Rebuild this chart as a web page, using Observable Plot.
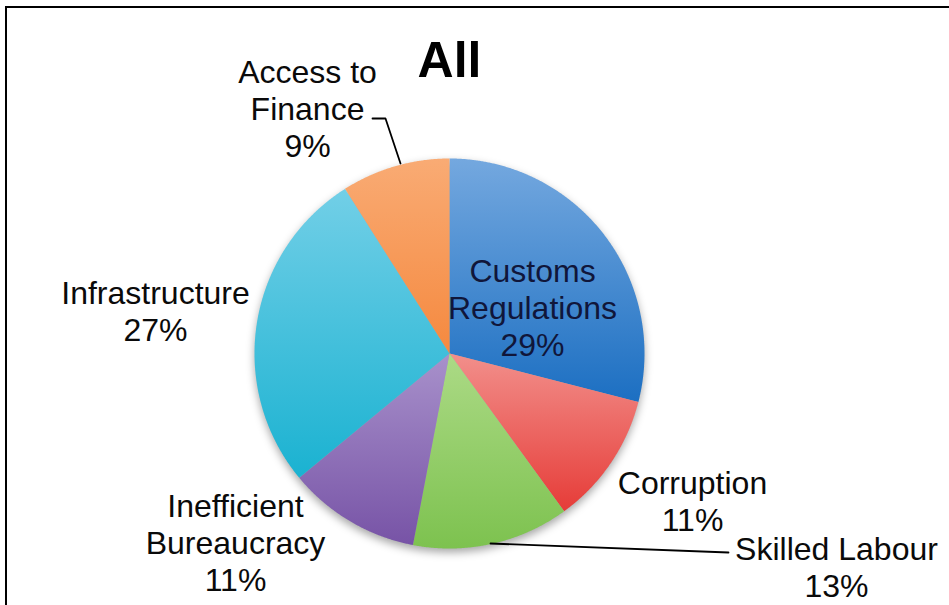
<!DOCTYPE html>
<html><head><meta charset="utf-8">
<script src="https://cdn.jsdelivr.net/npm/d3@7"></script>
<script src="https://cdn.jsdelivr.net/npm/@observablehq/plot@0.6"></script>
<style>
body{margin:0;background:#fff;}
#wrap{position:relative;width:949px;height:605px;overflow:hidden;background:#fff;}
#frame{position:absolute;left:5px;top:6px;width:960px;height:620px;border-top:2px solid #000;border-left:2px solid #000;pointer-events:none;box-sizing:border-box;}
#wrap svg{position:absolute;left:0;top:0;}
</style></head><body><div id="wrap"><div id="frame"></div></div>
<script>
// ---- data ----
const title = "All";
const categories = ["Customs Regulations","Corruption","Skilled Labour","Inefficient Bureaucracy","Infrastructure","Access to Finance"];
const labelText = ["Customs\nRegulations","Corruption","Skilled Labour","Inefficient\nBureaucracy","Infrastructure","Access to\nFinance"];
const shares = [29,11,13,11,27,9];

// ---- styles (kept separate from data) ----
const gradTop = ["#74a8df","#f28f8b","#acda86","#a891cb","#72cfe7","#f9ab74"];
const gradBottom = ["#1c6fc2","#e63c38","#7dc24f","#7753a6","#1ab2d1","#f5893f"];
const textColor = ["#10163a","#0a0a0a","#0a0a0a","#0a0a0a","#0a0a0a","#0a0a0a"];

// ---- layout (pixels) ----
const W = 949, H = 605, cx = 449, cy = 353, R = 195;
const labelPx = [[532,307],[692,500],[836,566],[235,542],[155,310],[307,108]];
const leaderPx = {
  "Access to Finance": [[372,118],[385,118],[400,163]],
  "Skilled Labour": [[490,543],[728,552]]
};
const ux = px => (px - cx) / R, uy = py => (cy - py) / R;

// ---- build slices through d3.pie ----
const rows = categories.map((c, i) => ({name: c, value: shares[i], i}));
const arcs = d3.pie().sort(null).value(d => d.value)(rows);
const slicePts = [];
for (const a of arcs) {
  const g = `url(#grad${a.data.i})`;
  slicePts.push({name: a.data.name, x: 0, y: 0, g});
  const n = Math.max(4, Math.ceil((a.endAngle - a.startAngle) / 0.005));
  for (let k = 0; k <= n; k++) {
    const t = a.startAngle + (a.endAngle - a.startAngle) * k / n;
    slicePts.push({name: a.data.name, x: Math.sin(t), y: Math.cos(t), g});
  }
}

const labels = rows.map((r, i) => ({
  text: `${labelText[i]}\n${r.value}%`,
  x: ux(labelPx[i][0]), y: uy(labelPx[i][1]), color: textColor[i]
}));
const leaders = [];
for (const [name, pts] of Object.entries(leaderPx)) for (const p of pts) leaders.push({name, x: ux(p[0]), y: uy(p[1])});

const chart = Plot.plot({
  width: W, height: H,
  marginTop: 0, marginBottom: 0, marginLeft: 0, marginRight: 0,
  x: {domain: [ux(0), ux(W)], axis: null},
  y: {domain: [uy(H), uy(0)], axis: null},
  color: {type: "identity"},
  style: {background: "transparent", fontFamily: "'Liberation Sans', Arial, sans-serif"},
  marks: [
    Plot.dot([0], {x: () => 0, y: () => 0, r: R, fill: "#000", fillOpacity: 0.35, stroke: "none", dy: 4}),
    Plot.line(slicePts, {x: "x", y: "y", z: "name", fill: "g", stroke: "none", curve: "linear-closed"}),
    Plot.line(leaders, {x: "x", y: "y", z: "name", stroke: "#000", strokeWidth: 1.8}),
    Plot.text(labels, {x: "x", y: "y", text: "text", fill: "color", fontSize: 32, lineHeight: 1.16, textAnchor: "middle"}),
    Plot.text([title], {x: () => ux(449), y: () => uy(60), text: d => d, fontSize: 50, fontWeight: "bold", fill: "#000"})
  ]
});

const svg = d3.select(chart);
const defs = svg.insert("defs", ":first-child");
const f = defs.append("filter").attr("id", "shadow").attr("x", "-20%").attr("y", "-20%").attr("width", "140%").attr("height", "140%");
f.append("feGaussianBlur").attr("stdDeviation", 4);
categories.forEach((c, i) => {
  const lg = defs.append("linearGradient").attr("id", `grad${i}`).attr("x1", 0).attr("y1", 0).attr("x2", 0).attr("y2", 1);
  lg.append("stop").attr("offset", "0%").attr("stop-color", gradTop[i]);
  lg.append("stop").attr("offset", "100%").attr("stop-color", gradBottom[i]);
});
svg.selectAll("g[aria-label=dot] circle").attr("filter", "url(#shadow)");
document.getElementById("wrap").appendChild(chart);
</script></body></html>
